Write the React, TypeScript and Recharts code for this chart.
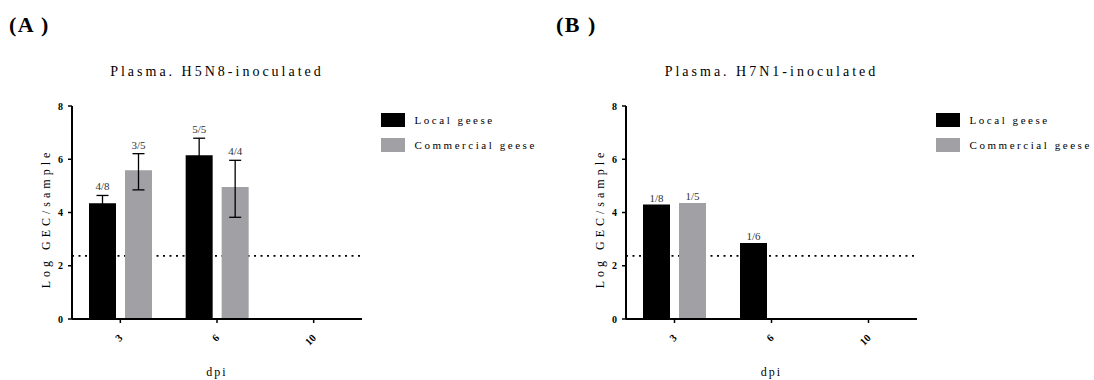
import React from 'react';
import { BarChart, Bar, XAxis, YAxis, ErrorBar, ReferenceLine, Legend, LabelList, Label } from 'recharts';

const categories = ['3', '6', '10'];
const yTicks = [0, 2, 4, 6, 8];
const detectionLimit = 2.37;
const seriesNames = ['Local geese', 'Commercial geese'];

const localA = [4.35, 6.15, null];
const localAErr = [0.29, 0.64, null];
const localALabels = ['4/8', '5/5', ''];
const commercialA = [5.59, 4.96, null];
const commercialAErr: any[] = [[0.74, 0.62], [1.14, 1.0], null];
const commercialALabels = ['3/5', '4/4', ''];

const localB = [4.3, 2.85, null];
const localBErr = [null, null, null];
const localBLabels = ['1/8', '1/6', ''];
const commercialB = [4.36, null, null];
const commercialBErr = [null, null, null];
const commercialBLabels = ['1/5', '', ''];

const SERIF = "'Liberation Serif', 'Times New Roman', serif";
const LOCAL_COLOR = '#000000';
const COMM_COLOR = '#a0a0a5';

function buildRows(local: any[], localErr: any[], localLab: string[], comm: any[], commErr: any[], commLab: string[]) {
  return categories.map((c, i) => ({
    dpi: c,
    local: local[i],
    localErr: localErr[i],
    localLabel: localLab[i],
    commercial: comm[i],
    commercialErr: commErr[i],
    commercialLabel: commLab[i],
  }));
}

const makeLabel = (rows: any[], valueKey: string, errKey: string) => (props: any) => {
  const vb = props.viewBox || props;
  const { x, y, width, height } = vb;
  const index = props.index;
  const value = props.value;
  if (!value || index == null) return null;
  const row = rows[index];
  const v = row[valueKey];
  if (v == null || !v) return null;
  const err = row[errKey];
  const up = err == null ? 0 : Array.isArray(err) ? err[1] : err;
  const pxPerUnit = Math.abs(height) / v;
  const top = Math.min(y, y + height);
  const ty = top - up * pxPerUnit - (up ? 5 : 3);
  return (
    <text x={x + width / 2} y={ty} textAnchor="middle" fontSize={11} fill="#333333" fontFamily={SERIF}>
      {value}
    </text>
  );
};

const XTick = (props: any) => {
  const { x, y, payload } = props;
  return (
    <g transform={`translate(${x + 3},${y + 13.5})`}>
      <text x={0} y={0} transform="rotate(-45)" textAnchor="end" fontSize={10.5} fontWeight="bold" fill="#000" fontFamily={SERIF}>
        {payload.value}
      </text>
    </g>
  );
};

const LegendContent = (props: any) => {
  const payload = [...(props.payload || [])].sort(
    (a: any, b: any) => seriesNames.indexOf(a.value) - seriesNames.indexOf(b.value)
  );
  return (
    <div style={{ fontFamily: SERIF, fontSize: 11, letterSpacing: 2.55, color: '#000' }}>
      {payload.map((p: any, i: number) => (
        <div key={i} style={{ display: 'flex', alignItems: 'center', height: 24.4, whiteSpace: 'nowrap' }}>
          <span style={{ display: 'inline-block', width: 24, height: 14, background: p.color, marginRight: 10 }} />
          <span>{p.value}</span>
        </div>
      ))}
    </div>
  );
};

type PanelProps = {
  letter: string;
  title: string;
  left: number;
  plotLeft: number;
  plotRight: number;
  rows: any[];
  hasErr: boolean;
};

const W = 547;
const H = 380;
const PLOT_TOP = 106;
const PLOT_BOTTOM = 319;
const Y_AXIS_W = 50;
const X_AXIS_H = 40;

function Panel({ letter, title, left, plotLeft, plotRight, rows, hasErr }: PanelProps) {
  return (
    <div style={{ position: 'absolute', left, top: 0, width: W, height: H }}>
      <div style={{ position: 'absolute', left: 9, top: 12, fontFamily: SERIF, fontWeight: 'bold', fontSize: 22, letterSpacing: 1.5, whiteSpace: 'pre' }}>
        {letter}
      </div>
      <div style={{ position: 'absolute', left: plotLeft, width: plotRight - plotLeft, top: 64, textAlign: 'center', fontFamily: SERIF, fontSize: 14, letterSpacing: 3.0, whiteSpace: 'nowrap' }}>
        {title}
      </div>
      <BarChart
        width={W}
        height={H}
        data={rows}
        margin={{ top: PLOT_TOP, right: W - plotRight, bottom: H - PLOT_BOTTOM - X_AXIS_H, left: plotLeft - Y_AXIS_W }}
        barSize={27}
        barGap={9}
      >
        <ReferenceLine y={detectionLimit} stroke="#000" strokeWidth={1.8} strokeDasharray="2 4.5" zIndex={-10} />
        <XAxis
          dataKey="dpi"
          height={X_AXIS_H}
          interval={0}
          tickSize={4}
          tick={<XTick />}
          axisLine={{ stroke: '#000', strokeWidth: 2 }}
          tickLine={{ stroke: '#000', strokeWidth: 1.5 }}
        >
          <Label
            content={(p: any) => {
              const vb = p.viewBox;
              return (
                <text x={vb.x + vb.width / 2} y={vb.y + 56.5} textAnchor="middle" fontSize={12} letterSpacing={2} fontFamily={SERIF} fill="#000">
                  dpi
                </text>
              );
            }}
          />
        </XAxis>
        <YAxis
          width={Y_AXIS_W}
          domain={[0, 8]}
          ticks={yTicks}
          interval={0}
          tickSize={4}
          tickMargin={5}
          tick={{ fontSize: 10, fontWeight: 'bold', fill: '#000', fontFamily: SERIF }}
          axisLine={{ stroke: '#000', strokeWidth: 2 }}
          tickLine={{ stroke: '#000', strokeWidth: 1.5 }}
        >
          <Label
            content={(p: any) => {
              const vb = p.viewBox;
              const cx = vb.x + 24;
              const cy = vb.y + vb.height / 2 + 6;
              return (
                <text x={cx} y={cy} transform={`rotate(-90, ${cx}, ${cy})`} textAnchor="middle" dominantBaseline="central" fontSize={12} letterSpacing={4.0} fontFamily={SERIF} fill="#000">
                  Log GEC/sample
                </text>
              );
            }}
          />
        </YAxis>
        <Bar dataKey="local" name={seriesNames[0]} fill={LOCAL_COLOR} isAnimationActive={false}>
          {hasErr && <ErrorBar dataKey="localErr" width={6} stroke="#000" strokeWidth={1.3} direction="y" />}
          <LabelList dataKey="localLabel" content={makeLabel(rows, 'local', 'localErr')} />
        </Bar>
        <Bar dataKey="commercial" name={seriesNames[1]} fill={COMM_COLOR} isAnimationActive={false}>
          {hasErr && <ErrorBar dataKey="commercialErr" width={6} stroke="#000" strokeWidth={1.3} direction="y" />}
          <LabelList dataKey="commercialLabel" content={makeLabel(rows, 'commercial', 'commercialErr')} />
        </Bar>
        <Legend
          layout="vertical"
          align="center"
          verticalAlign="middle"
          itemSorter={null as any}
          content={<LegendContent />}
          wrapperStyle={{ left: plotRight + 18.5, top: 108, width: 170 }}
        />
      </BarChart>
    </div>
  );
}

export default function App() {
  const rowsA = buildRows(localA, localAErr, localALabels, commercialA, commercialAErr, commercialALabels);
  const rowsB = buildRows(localB, localBErr, localBLabels, commercialB, commercialBErr, commercialBLabels);
  return (
    <div style={{ position: 'absolute', left: 0, top: 0, width: 1094, height: 380, background: '#fff', overflow: 'hidden' }}>
      <Panel letter="(A )" title="Plasma. H5N8-inoculated" left={0} plotLeft={72} plotRight={362} rows={rowsA} hasErr={true} />
      <Panel letter="(B )" title="Plasma. H7N1-inoculated" left={547} plotLeft={79} plotRight={370} rows={rowsB} hasErr={false} />
    </div>
  );
}
